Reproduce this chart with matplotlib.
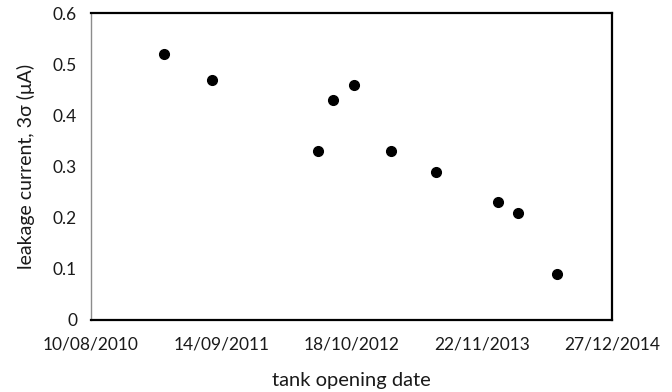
import numpy as np
import matplotlib
matplotlib.use("Agg")
import matplotlib.pyplot as plt
import matplotlib.dates as mdates

plt.rcParams['font.family'] = ['Lato', 'DejaVu Sans']

# tank opening dates and measured leakage current (3 sigma)
open_dates = ['2011-03-22', '2011-08-18', '2012-07-07', '2012-08-22', '2012-10-26',
              '2013-02-15', '2013-07-05', '2014-01-10', '2014-03-14', '2014-07-11']
leakage = [0.52, 0.47, 0.33, 0.43, 0.46, 0.33, 0.29, 0.23, 0.21, 0.09]

x_ticks = ['2010-08-10', '2011-09-14', '2012-10-18', '2013-11-22', '2014-12-27']
y_ticks = [0, 0.1, 0.2, 0.3, 0.4, 0.5, 0.6]

dates = np.array(open_dates, dtype='datetime64[D]')
ticks = np.array(x_ticks, dtype='datetime64[D]')

fig = plt.figure(figsize=(6.72, 3.92), dpi=100)
ax = fig.add_axes([0.1354, 0.1837, 0.7753, 0.7831])

ax.plot(dates, leakage, 'o', color='black', markersize=7, zorder=3)

ax.set_xlim(ticks[0], ticks[-1])
ax.set_ylim(0, 0.6)
ax.set_xticks(ticks)
ax.xaxis.set_major_formatter(mdates.DateFormatter('%d/%m/%Y'))
ax.set_yticks(y_ticks)
ax.set_yticklabels(['0'] + ['%.1f' % v for v in y_ticks[1:]])
ax.tick_params(length=0, labelsize=12.5, colors='#1a1a1a')
ax.tick_params(axis='x', pad=12)
ax.tick_params(axis='y', pad=10)

for side in ['top', 'right', 'bottom']:
    ax.spines[side].set_color('black')
    ax.spines[side].set_linewidth(1.6)
ax.spines['left'].set_color('#8c8c8c')
ax.spines['left'].set_linewidth(1.0)

ax.set_xlabel('tank opening date', fontsize=14.5, color='#1a1a1a', labelpad=14)
ax.set_ylabel('leakage current, 3σ (μA)', fontsize=14, color='#1a1a1a', labelpad=13)

fig.savefig('out.png', dpi=100)
